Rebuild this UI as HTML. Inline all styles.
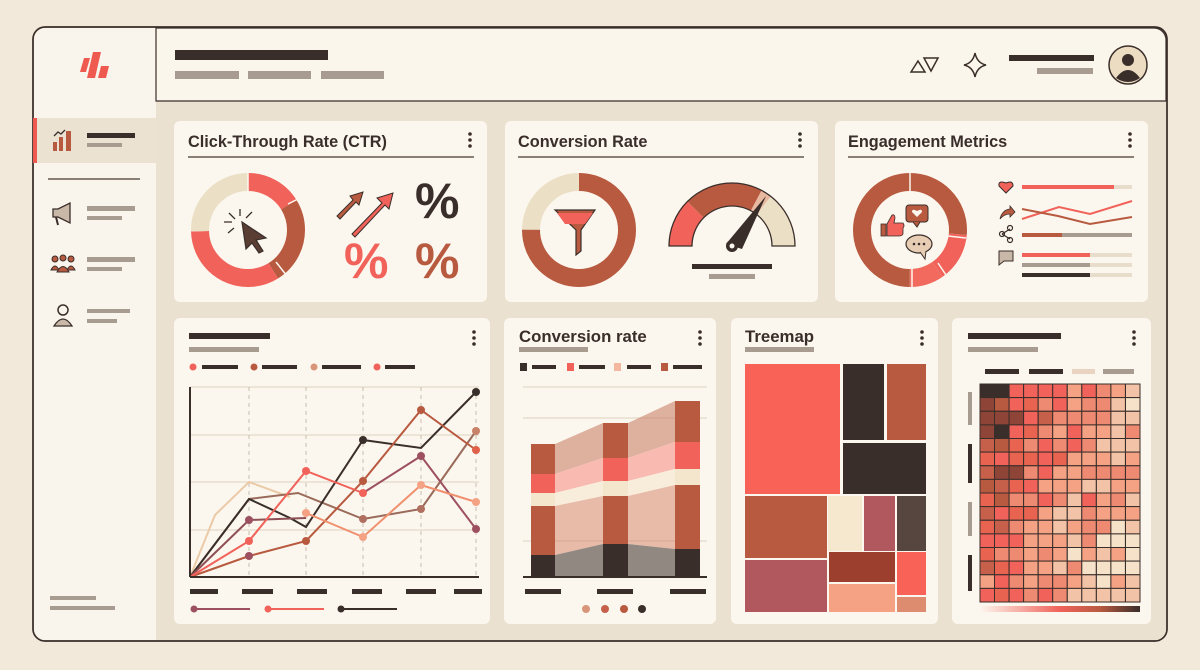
<!DOCTYPE html>
<html><head><meta charset="utf-8"><style>
html,body{margin:0;padding:0;background:#f3e9da;}
svg{display:block}
text{font-family:"Liberation Sans",sans-serif;}
</style></head><body>
<svg id="s" width="1200" height="670" viewBox="0 0 1200 670" xmlns="http://www.w3.org/2000/svg">
<rect width="1200" height="670" fill="#f3e9da"/>
<rect x="33" y="27" width="1134" height="614" rx="12" fill="#ebe1d0" stroke="#3a2e2a" stroke-width="1.5"/>
<path d="M34 101 V40 A12 12 0 0 1 46 28 H156 V640 H46 A12 12 0 0 1 34 628 Z" fill="#faf5ec"/>
<path d="M156 28 H1154 A12 12 0 0 1 1166 40 V101 H156 Z" fill="#fbf6ec" stroke="#3a2e2a" stroke-width="1.2"/>
<rect x="33" y="27" width="1134" height="614" rx="12" fill="none" stroke="#3a2e2a" stroke-width="1.5"/>
<g fill="#ef5a50"><polygon points="84,58 90,58 86,72 80,72"/><polygon points="93,52 101,52 95,78 87,78"/><polygon points="101,66 109,66 106,78 98,78"/></g>
<rect x="175" y="50" width="153" height="10" fill="#3a2e2a"/>
<rect x="175" y="71" width="64" height="8" fill="#a89c90"/><rect x="248" y="71" width="63" height="8" fill="#a89c90"/><rect x="321" y="71" width="63" height="8" fill="#a89c90"/>
<g fill="none" stroke="#3a2e2a" stroke-width="1.5"><polygon points="911,72 918,61 925,72"/><polygon points="924,58 938,58 931,71"/>
<path d="M975 53 Q977 63 986 65 Q977 67 975 77 Q973 67 964 65 Q973 63 975 53Z"/></g>
<rect x="1009" y="55" width="85" height="6" fill="#3a2e2a"/><rect x="1037" y="68" width="56" height="6" fill="#a89c90"/>
<circle cx="1128" cy="65" r="19" fill="#ebdcc2" stroke="#3a2e2a" stroke-width="1.5"/>
<circle cx="1128" cy="60" r="6" fill="#3a2e2a"/><path d="M1116 78 Q1128 62 1140 78 Q1128 86 1116 78Z" fill="#3a2e2a"/>
<rect x="34" y="118" width="122" height="45" fill="#ece2d2"/><rect x="33" y="118" width="4" height="45" fill="#ef5a50"/>
<g fill="#b85a40"><rect x="53" y="142" width="4" height="9"/><rect x="59" y="137" width="4" height="14"/><rect x="66" y="131" width="5" height="20"/></g>
<path d="M54 136 L58 132 L61 134 L65 130" stroke="#3a2e2a" fill="none" stroke-width="1.3"/>
<rect x="87" y="133" width="48" height="5" fill="#3a2e2a"/><rect x="87" y="143" width="35" height="4" fill="#a89c90"/>
<rect x="48" y="178" width="92" height="2" fill="#8a7f74"/>
<path d="M53 209 H58 L70 203 V223 L58 217 H53Z" fill="#c9b8a8" stroke="#3a2e2a" stroke-width="1.3"/><path d="M56 217 L58 225" stroke="#3a2e2a" stroke-width="2"/>
<rect x="87" y="206" width="48" height="5" fill="#a89c90"/><rect x="87" y="216" width="35" height="4" fill="#a89c90"/>
<g fill="#b85a40" stroke="#3a2e2a" stroke-width="1"><circle cx="55" cy="259" r="3"/><circle cx="63" cy="258" r="3"/><circle cx="71" cy="259" r="3"/><path d="M51 270 Q55 262 59 270Z M67 270 Q71 262 75 270Z"/><path d="M57 272 Q63 261 69 272Z"/></g>
<rect x="87" y="257" width="48" height="5" fill="#a89c90"/><rect x="87" y="267" width="35" height="4" fill="#a89c90"/>
<circle cx="63" cy="310" r="5" fill="none" stroke="#3a2e2a" stroke-width="1.5"/><path d="M54 326 Q63 312 72 326Z" fill="#c9b8a8" stroke="#3a2e2a" stroke-width="1.3"/>
<rect x="87" y="309" width="43" height="4" fill="#a89c90"/><rect x="87" y="319" width="30" height="4" fill="#a89c90"/>
<rect x="50" y="596" width="46" height="4" fill="#a89c90"/><rect x="50" y="606" width="65" height="4" fill="#a89c90"/>

<g fill="#fcf7ee"><rect x="174" y="121" width="313" height="181" rx="6"/><rect x="505" y="121" width="313" height="181" rx="6"/><rect x="835" y="121" width="313" height="181" rx="6"/>
<rect x="174" y="318" width="316" height="306" rx="6"/><rect x="504" y="318" width="212" height="306" rx="6"/><rect x="731" y="318" width="207" height="306" rx="6"/><rect x="952" y="318" width="199" height="306" rx="6"/></g>
<g fill="#3a2e2a"><text x="188" y="147" font-size="16.3" font-weight="bold">Click-Through Rate (CTR)</text>
<text x="518" y="147" font-size="16.3" font-weight="bold">Conversion Rate</text>
<text x="848" y="147" font-size="16.3" font-weight="bold">Engagement Metrics</text>
<text x="519" y="342" font-size="16.8" font-weight="bold">Conversion rate</text>
<text x="745" y="342" font-size="16.8" font-weight="bold">Treemap</text></g>
<g fill="#8a7f74"><rect x="188" y="156" width="286" height="2"/><rect x="518" y="156" width="286" height="2"/><rect x="848" y="156" width="286" height="2"/></g>
<g fill="#3a2e2a"><circle cx="470" cy="134" r="1.8"/><circle cx="470" cy="140" r="1.8"/><circle cx="470" cy="146" r="1.8"/>
<circle cx="800" cy="134" r="1.8"/><circle cx="800" cy="140" r="1.8"/><circle cx="800" cy="146" r="1.8"/>
<circle cx="1130" cy="134" r="1.8"/><circle cx="1130" cy="140" r="1.8"/><circle cx="1130" cy="146" r="1.8"/>
<circle cx="474" cy="332" r="1.8"/><circle cx="474" cy="338" r="1.8"/><circle cx="474" cy="344" r="1.8"/>
<circle cx="700" cy="332" r="1.8"/><circle cx="700" cy="338" r="1.8"/><circle cx="700" cy="344" r="1.8"/>
<circle cx="922" cy="332" r="1.8"/><circle cx="922" cy="338" r="1.8"/><circle cx="922" cy="344" r="1.8"/>
<circle cx="1134" cy="332" r="1.8"/><circle cx="1134" cy="338" r="1.8"/><circle cx="1134" cy="344" r="1.8"/></g>

<g fill="none" stroke-width="18" transform="rotate(-90 248 230)">
<circle cx="248" cy="230" r="48" stroke="#f0625a" stroke-dasharray="48.6 301.6"/>
<circle cx="248" cy="230" r="48" stroke="#b85a40" stroke-dasharray="75.4 301.6" stroke-dashoffset="-48.6"/>
<circle cx="248" cy="230" r="48" stroke="#f0625a" stroke-dasharray="100.5 301.6" stroke-dashoffset="-124"/>
<circle cx="248" cy="230" r="48" stroke="#ebdfc6" stroke-dasharray="77.1 301.6" stroke-dashoffset="-224.5"/></g>
<g stroke="#fcf7ee" stroke-width="1.5"><line x1="248" y1="173" x2="248" y2="191"/><line x1="288" y1="204" x2="304" y2="196"/><line x1="276" y1="262" x2="287" y2="276"/></g>
<path d="M242 222 L266 238 L256 240 L263 251 L259 253 L252 243 L246 249Z" fill="#5a3e34" stroke="#3a2e2a" stroke-width="1.2"/>
<g stroke="#3a2e2a" stroke-width="1.3"><path d="M240 209 V216 M229 213 L235 219 M252 212 L246 218 M224 222 H232 M228 233 L234 228"/></g>
<path d="M337 216 L353 200 L350 196 L363 192 L359 205 L356 202 L340 219Z" fill="#b85a40" stroke="#3a2e2a" stroke-width="1"/>
<path d="M352 234 L382 203 L377 198 L393 193 L389 209 L385 205 L355 237Z" fill="#f0625a" stroke="#3a2e2a" stroke-width="1"/>
<text x="415" y="218" font-size="50" font-weight="bold" fill="#3a2e2a">%</text>
<text x="344" y="278" font-size="50" font-weight="bold" fill="#f0625a">%</text>
<text x="415" y="278" font-size="50" font-weight="bold" fill="#b85a40">%</text>

<g fill="none" stroke-width="18" transform="rotate(-90 579 230)">
<circle cx="579" cy="230" r="48" stroke="#b85a40" stroke-dasharray="226.2 301.6"/>
<circle cx="579" cy="230" r="48" stroke="#ebdfc6" stroke-dasharray="75.4 301.6" stroke-dashoffset="-226.2"/></g>
<path d="M555 210 H595 L581 230 V251 L576 255 V230 Z" fill="#b85a40" stroke="#3a2e2a" stroke-width="1.2"/>
<path d="M557 213 H593 L585 224 H565Z" fill="#f0625a"/>
<g fill="none" stroke-width="23" transform="rotate(180 732 246)">
<circle cx="732" cy="246" r="51.5" stroke="#f0625a" stroke-dasharray="40.4 323.6"/>
<circle cx="732" cy="246" r="51.5" stroke="#b85a40" stroke-dasharray="65.6 323.6" stroke-dashoffset="-40.4"/>
<circle cx="732" cy="246" r="51.5" stroke="#e8b8a0" stroke-dasharray="9 323.6" stroke-dashoffset="-106"/>
<circle cx="732" cy="246" r="51.5" stroke="#ebdfc6" stroke-dasharray="46.7 323.6" stroke-dashoffset="-115"/></g>
<path d="M669 246 A63 63 0 0 1 795 246 L772 246 A40 40 0 0 0 692 246 Z" fill="none" stroke="#3a2e2a" stroke-width="1.3"/>
<path d="M726 244 L766 196 L742 249Z" fill="#3a2e2a"/><circle cx="732" cy="246" r="6" fill="#3a2e2a"/><circle cx="732" cy="246" r="2.5" fill="#fcf7ee"/>
<rect x="692" y="264" width="80" height="5" fill="#3a2e2a"/><rect x="709" y="274" width="46" height="5" fill="#a89c90"/>

<g fill="none" stroke-width="18" transform="rotate(-90 910 230)">
<circle cx="910" cy="230" r="48" stroke="#b85a40" stroke-dasharray="79.6 301.6"/>
<circle cx="910" cy="230" r="48" stroke="#f0625a" stroke-dasharray="41.9 301.6" stroke-dashoffset="-79.6"/>
<circle cx="910" cy="230" r="48" stroke="#f26a5e" stroke-dasharray="29.3 301.6" stroke-dashoffset="-121.5"/>
<circle cx="910" cy="230" r="48" stroke="#b85a40" stroke-dasharray="150.8 301.6" stroke-dashoffset="-150.8"/></g>
<g stroke="#fcf7ee" stroke-width="1.5"><line x1="910" y1="173" x2="910" y2="191"/><line x1="948" y1="236" x2="966" y2="238"/><line x1="938" y1="263" x2="948" y2="278"/><line x1="912" y1="269" x2="912" y2="287"/></g>
<rect x="881" y="224" width="5" height="12" fill="#b85a40" stroke="#3a2e2a" stroke-width="0.8"/>
<path d="M887 224 L892 215 Q895 214 895 218 L894 223 H903 Q905 226 903 228 V234 Q902 236 899 236 H887Z" fill="#f0625a" stroke="#3a2e2a" stroke-width="0.8"/>
<rect x="906" y="205" width="22" height="17" rx="3" fill="#b85a40" stroke="#3a2e2a" stroke-width="1"/><path d="M913 222 L917 227 L920 222" fill="#b85a40" stroke="#3a2e2a"/>
<path d="M917 217 L912 212 Q912 208 917 211 Q922 208 922 212Z" fill="#fcf7ee"/>
<ellipse cx="919" cy="244" rx="13" ry="9" fill="#e6cdb4" stroke="#3a2e2a" stroke-width="1.2"/><path d="M920 252 L925 259 L926 251" fill="#e6cdb4" stroke="#3a2e2a"/>
<g fill="#3a2e2a"><circle cx="914" cy="244" r="1.3"/><circle cx="919" cy="244" r="1.3"/><circle cx="924" cy="244" r="1.3"/></g>
<path d="M1006 193 L999 186 Q998 180 1006 183 Q1013 180 1013 186Z" fill="#f0625a" stroke="#3a2e2a" stroke-width="1"/>
<rect x="1022" y="185" width="92" height="4" fill="#f0625a"/><rect x="1114" y="185" width="18" height="4" fill="#e8dccb"/>
<path d="M1000 219 Q1002 210 1010 209 V206 L1015 212 L1010 217 V214 Q1004 214 1000 219Z" fill="#b85a40" stroke="#3a2e2a" stroke-width="0.8"/>
<polyline points="1022,219 1059,207 1090,214 1132,201" fill="none" stroke="#f0625a" stroke-width="2"/>
<polyline points="1022,209 1058,216 1090,224 1132,217" fill="none" stroke="#b85a40" stroke-width="2"/>
<g stroke="#3a2e2a" stroke-width="1.2" fill="none"><path d="M1002 234 L1010 229 M1002 234 L1010 239"/><circle cx="1002" cy="234" r="2.5"/><circle cx="1010" cy="228" r="2.5"/><circle cx="1010" cy="240" r="2.5"/></g>
<rect x="1022" y="233" width="40" height="4" fill="#b85a40"/><rect x="1062" y="233" width="70" height="4" fill="#a89c90"/>
<path d="M999 251 H1013 V261 H1004 L999 265Z" fill="#c9b8a8" stroke="#3a2e2a" stroke-width="1"/>
<rect x="1022" y="253" width="68" height="4" fill="#f0625a"/><rect x="1090" y="253" width="42" height="4" fill="#e8dccb"/>
<rect x="1022" y="263" width="68" height="4" fill="#a89c90"/><rect x="1090" y="263" width="42" height="4" fill="#e8dccb"/>
<rect x="1022" y="273" width="68" height="4" fill="#3a2e2a"/><rect x="1090" y="273" width="42" height="4" fill="#e8dccb"/>

<rect x="189" y="333" width="81" height="6" fill="#3a2e2a"/><rect x="189" y="347" width="70" height="5" fill="#a89c90"/>
<circle cx="193" cy="367" r="3.5" fill="#f0625a"/><rect x="202" y="365" width="36" height="4" fill="#3a2e2a"/>
<circle cx="254" cy="367" r="3.5" fill="#b85a40"/><rect x="262" y="365" width="35" height="4" fill="#3a2e2a"/>
<circle cx="314" cy="367" r="3.5" fill="#d9957a"/><rect x="322" y="365" width="39" height="4" fill="#3a2e2a"/>
<circle cx="377" cy="367" r="3.5" fill="#f0625a"/><rect x="385" y="365" width="30" height="4" fill="#3a2e2a"/>
<g stroke="#e2d8c8" stroke-width="1.2"><line x1="190" y1="387" x2="479" y2="387"/><line x1="190" y1="435" x2="479" y2="435"/><line x1="190" y1="482" x2="479" y2="482"/><line x1="190" y1="530" x2="479" y2="530"/></g>
<g stroke="#c8bcae" stroke-width="1" stroke-dasharray="4 4"><line x1="249" y1="387" x2="249" y2="577"/><line x1="306" y1="387" x2="306" y2="577"/><line x1="363" y1="387" x2="363" y2="577"/><line x1="421" y1="387" x2="421" y2="577"/><line x1="476" y1="387" x2="476" y2="577"/></g>
<g fill="none" stroke-width="2">
<polyline points="190,577 215,515 249,482 290,497" stroke="#ebcaa8"/>
<polyline points="190,577 249,499 298,493 363,519 421,509 476,431" stroke="#9a6a5a"/>
<polyline points="190,577 249,499 290,518 306,527 363,440 421,448 476,392" stroke="#3a2e2a"/>
<polyline points="190,577 249,556 306,541 363,481 421,410 476,450" stroke="#b85a40"/>
<polyline points="190,577 249,520 306,518" stroke="#8e4f55"/>
<polyline points="190,577 249,541 306,471 363,493" stroke="#f0625a"/>
<polyline points="363,493 421,456 476,529" stroke="#9c5060"/>
<polyline points="306,513 363,537 421,485 476,502" stroke="#f0906e"/>
</g>
<g>
<circle cx="249" cy="520" r="4" fill="#9c5060"/><circle cx="249" cy="541" r="4" fill="#f0625a"/><circle cx="249" cy="556" r="4" fill="#9c5060"/>
<circle cx="306" cy="541" r="4" fill="#b85a40"/><circle cx="306" cy="471" r="4" fill="#f0625a"/><circle cx="306" cy="513" r="4" fill="#f4a283"/>
<circle cx="363" cy="440" r="4" fill="#3a2e2a"/><circle cx="363" cy="481" r="4" fill="#b85a40"/><circle cx="363" cy="493" r="4" fill="#f0625a"/><circle cx="363" cy="519" r="4" fill="#b07060"/><circle cx="363" cy="537" r="4" fill="#f4a283"/>
<circle cx="421" cy="410" r="4" fill="#b85a40"/><circle cx="421" cy="456" r="4" fill="#9c5060"/><circle cx="421" cy="485" r="4" fill="#f4a283"/><circle cx="421" cy="509" r="4" fill="#b07060"/>
<circle cx="476" cy="392" r="4" fill="#3a2e2a"/><circle cx="476" cy="431" r="4" fill="#c9826a"/><circle cx="476" cy="450" r="4" fill="#e0604a"/><circle cx="476" cy="502" r="4" fill="#f4a283"/><circle cx="476" cy="529" r="4" fill="#9c5060"/>
</g>
<g stroke="#3a2e2a" stroke-width="2"><line x1="190" y1="387" x2="190" y2="577"/><line x1="190" y1="577" x2="479" y2="577"/></g>
<g fill="#3a2e2a"><rect x="190" y="589" width="28" height="5"/><rect x="242" y="589" width="31" height="5"/><rect x="297" y="589" width="30" height="5"/><rect x="352" y="589" width="30" height="5"/><rect x="406" y="589" width="30" height="5"/><rect x="454" y="589" width="28" height="5"/></g>
<circle cx="194" cy="609" r="3.5" fill="#9c5060"/><rect x="194" y="608" width="56" height="2" fill="#9c5060"/>
<circle cx="268" cy="609" r="3.5" fill="#f0625a"/><rect x="268" y="608" width="56" height="2" fill="#f0625a"/>
<circle cx="341" cy="609" r="3.5" fill="#3a2e2a"/><rect x="341" y="608" width="56" height="2" fill="#3a2e2a"/>

<rect x="519" y="347" width="69" height="5" fill="#a89c90"/>
<rect x="520" y="363" width="7" height="8" fill="#3a2e2a"/><rect x="532" y="365" width="24" height="4" fill="#3a2e2a"/>
<rect x="567" y="363" width="7" height="8" fill="#f0625a"/><rect x="579" y="365" width="26" height="4" fill="#3a2e2a"/>
<rect x="614" y="363" width="7" height="8" fill="#f4b8a0"/><rect x="627" y="365" width="24" height="4" fill="#3a2e2a"/>
<rect x="661" y="363" width="7" height="8" fill="#b85a40"/><rect x="673" y="365" width="29" height="4" fill="#3a2e2a"/>
<g stroke="#e2d8c8" stroke-width="1.2"><line x1="523" y1="387" x2="707" y2="387"/><line x1="523" y1="418" x2="707" y2="418"/><line x1="523" y1="541" x2="707" y2="541"/></g>
<g opacity="0.55">
<polygon points="555,444 603,423 603,458 555,474" fill="#c77860"/><polygon points="628,423 675,401 675,442 628,458" fill="#c77860"/>
<polygon points="555,474 603,458 603,481 555,493" fill="#f78a80"/><polygon points="628,458 675,442 675,469 628,481" fill="#f78a80"/>
<polygon points="555,493 603,481 603,496 555,506" fill="#f5e6cc"/><polygon points="628,481 675,469 675,485 628,496" fill="#f5e6cc"/>
<polygon points="555,506 603,496 603,544 555,555" fill="#d88a70"/><polygon points="628,496 675,485 675,549 628,544" fill="#d88a70"/>
<polygon points="555,555 603,544 603,577 555,577" fill="#3a2e2a"/><polygon points="628,544 675,549 675,577 628,577" fill="#3a2e2a"/>
</g>
<g>
<rect x="531" y="444" width="24" height="30" fill="#b85a40"/><rect x="531" y="474" width="24" height="19" fill="#f0625a"/><rect x="531" y="493" width="24" height="13" fill="#f3e6cc"/><rect x="531" y="506" width="24" height="49" fill="#b85a40"/><rect x="531" y="555" width="24" height="22" fill="#3a2e2a"/>
<rect x="603" y="423" width="25" height="35" fill="#b85a40"/><rect x="603" y="458" width="25" height="23" fill="#f0625a"/><rect x="603" y="481" width="25" height="15" fill="#f3e6cc"/><rect x="603" y="496" width="25" height="48" fill="#b85a40"/><rect x="603" y="544" width="25" height="33" fill="#3a2e2a"/>
<rect x="675" y="401" width="25" height="41" fill="#b85a40"/><rect x="675" y="442" width="25" height="27" fill="#f0625a"/><rect x="675" y="469" width="25" height="16" fill="#f3e6cc"/><rect x="675" y="485" width="25" height="64" fill="#b85a40"/><rect x="675" y="549" width="25" height="28" fill="#3a2e2a"/>
</g>
<rect x="523" y="576" width="184" height="2" fill="#3a2e2a"/>
<g fill="#3a2e2a"><rect x="525" y="589" width="36" height="5"/><rect x="597" y="589" width="36" height="5"/><rect x="670" y="589" width="36" height="5"/></g>
<circle cx="586" cy="609" r="4" fill="#d9957a"/><circle cx="605" cy="609" r="4" fill="#c7604a"/><circle cx="624" cy="609" r="4" fill="#b85a40"/><circle cx="642" cy="609" r="4" fill="#3a2e2a"/>

<rect x="745" y="347" width="69" height="5" fill="#a89c90"/>
<rect x="745" y="364" width="95" height="130" fill="#f86257"/>
<rect x="843" y="364" width="41" height="76" fill="#3a2e2a"/>
<rect x="887" y="364" width="39" height="76" fill="#b85a40"/>
<rect x="843" y="443" width="83" height="51" fill="#3a2e2a"/>
<rect x="745" y="496" width="82" height="62" fill="#b85a40"/>
<rect x="828" y="496" width="34" height="55" fill="#f5e8cf"/>
<rect x="864" y="496" width="31" height="55" fill="#b0585e"/>
<rect x="897" y="496" width="29" height="55" fill="#574540"/>
<rect x="745" y="560" width="82" height="52" fill="#b0585e"/>
<rect x="829" y="552" width="66" height="30" fill="#9c3f2e"/>
<rect x="829" y="584" width="66" height="28" fill="#f4a283"/>
<rect x="897" y="552" width="29" height="43" fill="#f86257"/>
<rect x="897" y="597" width="29" height="15" fill="#dd8c70"/>

<rect x="968" y="333" width="93" height="6" fill="#3a2e2a"/><rect x="968" y="347" width="70" height="5" fill="#a89c90"/>
<rect x="985" y="369" width="34" height="5" fill="#3a2e2a"/><rect x="1029" y="369" width="34" height="5" fill="#3a2e2a"/><rect x="1072" y="369" width="23" height="5" fill="#e8d4c0"/><rect x="1103" y="369" width="31" height="5" fill="#a89c90"/>
<rect x="968" y="392" width="4" height="33" fill="#a89c90"/><rect x="968" y="444" width="4" height="39" fill="#3a2e2a"/><rect x="968" y="502" width="4" height="34" fill="#a89c90"/><rect x="968" y="555" width="4" height="36" fill="#3a2e2a"/>
<g id="hm"></g>
<defs><linearGradient id="cg" x1="0" x2="1"><stop offset="0" stop-color="#fcf7ee"/><stop offset="0.5" stop-color="#f0625a"/><stop offset="0.75" stop-color="#b85a40"/><stop offset="1" stop-color="#3a2e2a"/></linearGradient></defs>
<rect x="980" y="606" width="160" height="6" fill="url(#cg)"/>
</svg>
<script>
(function(){
var g=document.getElementById('hm'),cols=11,rows=16,x0=980,y0=384,w=160/11,h=218/16;
var pal=['#f5e2c8','#f2c3a6','#f4a283','#ee8a72','#f0625a','#e86450','#c7604a','#b85a40','#8e4538','#3a2e2a'];
var seed=7;function r(){seed=(seed*9301+49297)%233280;return seed/233280;}
var s='';
for(var i=0;i<rows;i++)for(var j=0;j<cols;j++){
 var base=6.0-j*0.4-i*0.14+(j<3&&i<12?1.0-j*0.3:0);
 var v=Math.round(base+(r()-0.5)*3.4);
 if(i==0&&j<2)v=9; if(i==3&&j==1)v=9; if(i==2&&j==2)v=8; if(i==6&&(j==1||j==2))v=8;
 v=Math.max(0,Math.min(9,v));
 s+='<rect x="'+(x0+j*w).toFixed(1)+'" y="'+(y0+i*h).toFixed(1)+'" width="'+w.toFixed(1)+'" height="'+h.toFixed(1)+'" fill="'+pal[v]+'" stroke="#3a2e2a" stroke-width="1"/>';
}
g.innerHTML=s;
})();
</script>
</body></html>
